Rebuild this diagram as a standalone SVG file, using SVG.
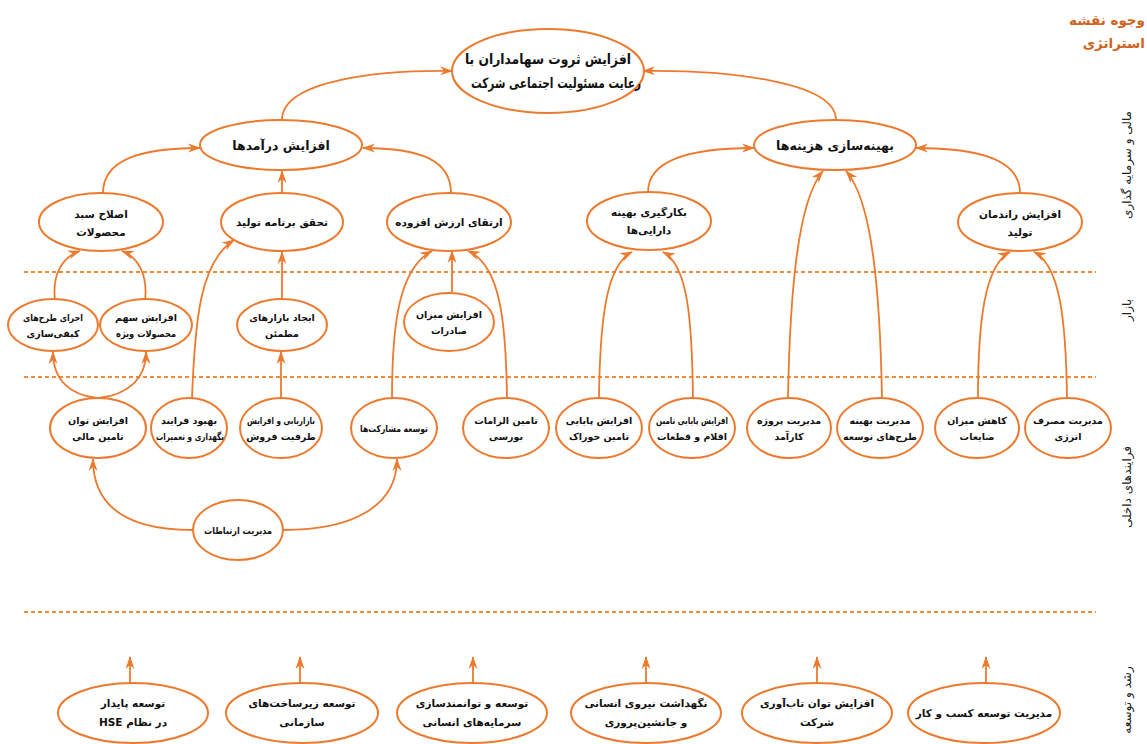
<svg xmlns="http://www.w3.org/2000/svg" width="1147" height="744" viewBox="0 0 1147 744">
<style>
.n{fill:#fff;stroke:#EC7A2E;stroke-width:2}
.c{fill:none;stroke:#EC7A2E;stroke-width:1.8;marker-end:url(#ah)}
.d{stroke:#EE8A3A;stroke-width:2;stroke-dasharray:4 3}
text{font-family:"DejaVu Sans",sans-serif;font-weight:bold;fill:#111;text-anchor:middle;direction:rtl}
.t1{font-size:14px}
.t2{font-size:12.5px}
.t3{font-size:10.5px}
.t4{font-size:9.5px}
.side{font-size:12px;font-weight:normal;fill:#222}
.head{font-size:13.5px;fill:#D0641E;text-anchor:start}
</style>
<defs>
<marker id="ah" markerWidth="13" markerHeight="10" refX="12" refY="5" orient="auto" markerUnits="userSpaceOnUse">
<path d="M0,0.5 L13,5 L0,9.5 L4,5 z" fill="#EC7A2E"/>
</marker>
</defs>
<rect width="1147" height="744" fill="#fff"/>

<g id="dividers">
<line class="d" x1="24" y1="272" x2="1096" y2="272"/>
<line class="d" x1="24" y1="377" x2="1096" y2="377"/>
<line class="d" x1="24" y1="612" x2="1096" y2="612"/>
</g>

<g id="connectors">
<path class="c" d="M282,120 C282,80 380,70 452,71"/>
<path class="c" d="M836,120 C836,80 720,70 643,71"/>
<path class="c" d="M103,193 C103,160 140,148 200,148"/>
<path class="c" d="M282,193 L282,171"/>
<path class="c" d="M451,193 C451,160 420,148 363,148"/>
<path class="c" d="M648,192 C648,160 690,148 754,148"/>
<path class="c" d="M1020,193 C1020,160 980,148 916,148"/>
<path class="c" d="M788,398 C790,290 798,200 823,171"/>
<path class="c" d="M882,398 C880,290 872,200 846,171"/>
<path class="c" d="M55,300 C52,275 62,257 80,251"/>
<path class="c" d="M145,300 C148,275 138,257 122,251"/>
<path class="c" d="M97,398 C70,395 53,380 53,352"/>
<path class="c" d="M99,398 C126,395 146,380 146,352"/>
<path class="c" d="M192,398 C195,320 200,262 234,240"/>
<path class="c" d="M281,398 L281,352"/>
<path class="c" d="M282,300 L282,252"/>
<path class="c" d="M392,398 C392,320 400,268 432,251"/>
<path class="c" d="M452,292 L452,251"/>
<path class="c" d="M507,398 C506,320 500,265 468,251"/>
<path class="c" d="M599,398 C600,320 606,265 632,252"/>
<path class="c" d="M693,398 C692,320 688,265 663,252"/>
<path class="c" d="M978,398 C978,320 985,265 1010,252"/>
<path class="c" d="M1067,398 C1066,320 1060,265 1034,252"/>
<path class="c" d="M193,530 C125,530 93,505 93,459"/>
<path class="c" d="M283,530 C355,530 397,505 397,459"/>
<path class="c" d="M130,683 L130,657"/>
<path class="c" d="M300,683 L300,657"/>
<path class="c" d="M473,683 L473,657"/>
<path class="c" d="M646,683 L646,657"/>
<path class="c" d="M817,683 L817,657"/>
<path class="c" d="M986,683 L986,657"/>
</g>

<g id="n-top"><ellipse class="n" cx="548" cy="71" rx="96" ry="42"/>
<text class="t1" x="548" y="64" textLength="166" lengthAdjust="spacingAndGlyphs">افزایش ثروت سهامداران با</text>
<text class="t1" x="556" y="88" textLength="170" lengthAdjust="spacingAndGlyphs">رعایت مسئولیت اجتماعی شرکت</text></g>

<g id="n-revenue"><ellipse class="n" cx="281" cy="145" rx="81" ry="25"/>
<text class="t2" x="281" y="150">افزایش درآمدها</text></g>
<g id="n-cost"><ellipse class="n" cx="835" cy="145" rx="81" ry="25"/>
<text class="t2" x="835" y="150">بهینه‌سازی هزینه‌ها</text></g>

<g id="n-portfolio"><ellipse class="n" cx="101" cy="222" rx="62" ry="29"/>
<text class="t3" x="101" y="218">اصلاح سبد</text><text class="t3" x="101" y="236">محصولات</text></g>
<g id="n-plan"><ellipse class="n" cx="282" cy="222" rx="61" ry="29"/>
<text class="t3" x="282" y="226">تحقق برنامه تولید</text></g>
<g id="n-value"><ellipse class="n" cx="449" cy="222" rx="62" ry="29"/>
<text class="t3" x="449" y="226">ارتقای ارزش افزوده</text></g>
<g id="n-assets"><ellipse class="n" cx="649" cy="221" rx="62" ry="29"/>
<text class="t3" x="649" y="216">بکارگیری بهینه</text><text class="t3" x="649" y="234">دارایی‌ها</text></g>
<g id="n-efficiency"><ellipse class="n" cx="1020" cy="222" rx="62" ry="29"/>
<text class="t3" x="1020" y="218">افزایش راندمان</text><text class="t3" x="1020" y="236">تولید</text></g>

<g id="n-quality"><ellipse class="n" cx="53" cy="325" rx="45" ry="26"/>
<text class="t4" x="53" y="321" textLength="60" lengthAdjust="spacingAndGlyphs">اجرای طرح‌های</text><text class="t4" x="53" y="337">کیفی‌سازی</text></g>
<g id="n-special"><ellipse class="n" cx="146" cy="325" rx="46" ry="26"/>
<text class="t4" x="146" y="321">افزایش سهم</text><text class="t4" x="146" y="337" textLength="60" lengthAdjust="spacingAndGlyphs">محصولات ویژه</text></g>
<g id="n-markets"><ellipse class="n" cx="282" cy="325" rx="45" ry="26"/>
<text class="t4" x="282" y="321">ایجاد بازارهای</text><text class="t4" x="282" y="337">مطمئن</text></g>
<g id="n-export"><ellipse class="n" cx="449" cy="322" rx="45" ry="29"/>
<text class="t4" x="449" y="318">افزایش میزان</text><text class="t4" x="449" y="334">صادرات</text></g>

<g id="n-finance"><ellipse class="n" cx="98" cy="428" rx="48" ry="30"/>
<text class="t4" x="98" y="424">افزایش توان</text><text class="t4" x="98" y="440">تامین مالی</text></g>
<g id="n-maint"><ellipse class="n" cx="189" cy="428" rx="38" ry="30"/>
<text class="t4" x="189" y="424">بهبود فرایند</text><text class="t4" x="190" y="440" textLength="68" lengthAdjust="spacingAndGlyphs">نگهداری و تعمیرات</text></g>
<g id="n-marketing"><ellipse class="n" cx="281" cy="428" rx="41" ry="30"/>
<text class="t4" x="281" y="424" textLength="68" lengthAdjust="spacingAndGlyphs">بازاریابی و افزایش</text><text class="t4" x="281" y="440">ظرفیت فروش</text></g>
<g id="n-partner"><ellipse class="n" cx="394" cy="428" rx="43" ry="30"/>
<text class="t4" x="394" y="432" textLength="68" lengthAdjust="spacingAndGlyphs">توسعه مشارکت‌ها</text></g>
<g id="n-bourse"><ellipse class="n" cx="506" cy="428" rx="43" ry="30"/>
<text class="t4" x="506" y="424">تامین الزامات</text><text class="t4" x="506" y="440">بورسی</text></g>
<g id="n-feed"><ellipse class="n" cx="599" cy="428" rx="43" ry="30"/>
<text class="t4" x="599" y="424">افزایش پایایی</text><text class="t4" x="599" y="440">تامین خوراک</text></g>
<g id="n-parts"><ellipse class="n" cx="692" cy="428" rx="43" ry="30"/>
<text class="t4" x="692" y="424" textLength="72" lengthAdjust="spacingAndGlyphs">افزایش پایایی تامین</text><text class="t4" x="692" y="440">اقلام و قطعات</text></g>
<g id="n-project"><ellipse class="n" cx="789" cy="428" rx="42" ry="30"/>
<text class="t4" x="789" y="424">مدیریت پروژه</text><text class="t4" x="789" y="440">کارآمد</text></g>
<g id="n-devplans"><ellipse class="n" cx="880" cy="428" rx="43" ry="30"/>
<text class="t4" x="880" y="424">مدیریت بهینه</text><text class="t4" x="880" y="440">طرح‌های توسعه</text></g>
<g id="n-waste"><ellipse class="n" cx="977" cy="428" rx="42" ry="30"/>
<text class="t4" x="977" y="424">کاهش میزان</text><text class="t4" x="977" y="440">ضایعات</text></g>
<g id="n-energy"><ellipse class="n" cx="1068" cy="428" rx="43" ry="30"/>
<text class="t4" x="1068" y="424">مدیریت مصرف</text><text class="t4" x="1068" y="440">انرژی</text></g>

<g id="n-comm"><ellipse class="n" cx="238" cy="530" rx="45" ry="30"/>
<text class="t4" x="238" y="534" textLength="68" lengthAdjust="spacingAndGlyphs">مدیریت ارتباطات</text></g>

<g id="n-hse"><ellipse class="n" cx="133" cy="713" rx="75" ry="30"/>
<text class="t3" x="133" y="707">توسعه پایدار</text><text class="t3" x="133" y="726">در نظام HSE</text></g>
<g id="n-infra"><ellipse class="n" cx="302" cy="713" rx="76" ry="30"/>
<text class="t3" x="302" y="707">توسعه زیرساخت‌های</text><text class="t3" x="302" y="726">سازمانی</text></g>
<g id="n-hc"><ellipse class="n" cx="472" cy="713" rx="75" ry="30"/>
<text class="t3" x="472" y="707">توسعه و توانمندسازی</text><text class="t3" x="472" y="726">سرمایه‌های انسانی</text></g>
<g id="n-retain"><ellipse class="n" cx="646" cy="713" rx="75" ry="30"/>
<text class="t3" x="646" y="707">نگهداشت نیروی انسانی</text><text class="t3" x="646" y="726">و جانشین‌پروری</text></g>
<g id="n-resil"><ellipse class="n" cx="817" cy="713" rx="75" ry="30"/>
<text class="t3" x="817" y="707">افزایش توان تاب‌آوری</text><text class="t3" x="817" y="726">شرکت</text></g>
<g id="n-biz"><ellipse class="n" cx="984" cy="713" rx="76" ry="30"/>
<text class="t3" x="984" y="717">مدیریت توسعه کسب و کار</text></g>

<g id="labels">
<text class="head" x="1145" y="25">وجوه نقشه</text>
<text class="head" x="1145" y="48">استراتژی</text>
<text class="side" transform="translate(1131,165) rotate(-90)">مالی و سرمایه گذاری</text>
<text class="side" transform="translate(1131,310) rotate(-90)">بازار</text>
<text class="side" transform="translate(1131,487) rotate(-90)">فرایندهای داخلی</text>
<text class="side" transform="translate(1131,700) rotate(-90)">رشد و توسعه</text>
</g>
</svg>
